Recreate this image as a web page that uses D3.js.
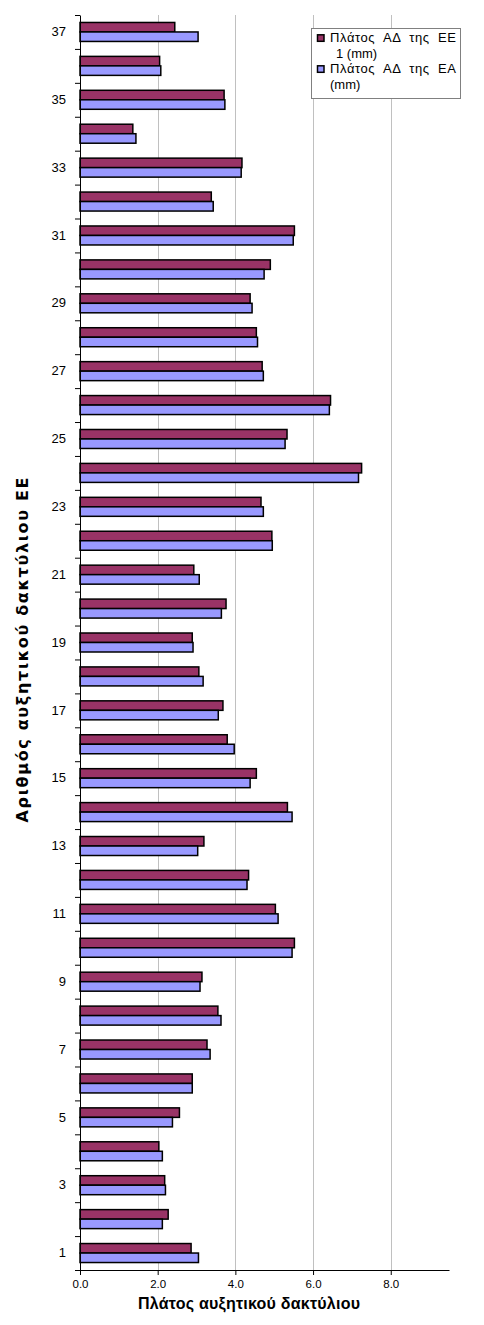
<!DOCTYPE html>
<html><head><meta charset="utf-8">
<script src="https://cdn.jsdelivr.net/npm/d3@7"></script>
<style>body{margin:0;background:#fff}svg{display:block}</style>
</head><body>
<svg id="c" width="484" height="1325"></svg>
<script>
const categories = [1,2,3,4,5,6,7,8,9,10,11,12,13,14,15,16,17,18,19,20,21,22,23,24,25,26,27,28,29,30,31,32,33,34,35,36,37];
const seriesEE = [2.86,2.27,2.18,2.03,2.56,2.89,3.27,3.55,3.14,5.52,5.03,4.34,3.19,5.34,4.54,3.79,3.68,3.06,2.89,3.76,2.93,4.94,4.66,7.25,5.33,6.45,4.69,4.54,4.38,4.90,5.52,3.38,4.17,1.36,3.71,2.05,2.44];
const seriesEA = [3.05,2.12,2.20,2.12,2.38,2.89,3.35,3.63,3.09,5.46,5.10,4.30,3.03,5.46,4.38,3.97,3.56,3.17,2.91,3.64,3.07,4.95,4.72,7.17,5.28,6.42,4.72,4.57,4.43,4.74,5.49,3.43,4.15,1.44,3.73,2.08,3.04];
const xTicks = [0,2,4,6,8];
const yTickLabels = [1,3,5,7,9,11,13,15,17,19,21,23,25,27,29,31,33,35,37];
const seriesNames = ["EE","EA"];
const legendLines = [["Πλάτος  ΑΔ  της  ΕΕ","1 (mm)"],["Πλάτος  ΑΔ  της  ΕΑ","(mm)"]];
const colors = {EE:"#993366", EA:"#9999FF"};
const xTitle = "Πλάτος αυξητικού δακτύλιου";
const yTitle = "Αριθμός αυξητικού δακτύλιου ΕΕ";

const svg = d3.select("#c");
const L=80, R=449, T=15, B=1270;
const font = "'Liberation Sans', Arial, sans-serif";
const titleFont = "'DejaVu Sans', Verdana, sans-serif";

const x = d3.scaleLinear().domain([0,9.5]).range([L,R]);
const y = d3.scaleBand().domain(categories.slice().reverse()).range([T,B]).paddingInner(0.44).paddingOuter(0.22);
const ys = d3.scaleBand().domain(seriesNames).range([0,y.bandwidth()]);
const yl = d3.scaleLinear().domain([0,categories.length]).range([B,T]);

// gridlines
svg.append("g").selectAll("line").data(xTicks.filter(d=>d>0)).join("line")
  .attr("x1",d=>Math.round(x(d))+0.5).attr("x2",d=>Math.round(x(d))+0.5)
  .attr("y1",T).attr("y2",B).attr("stroke","#c0c0c0").attr("stroke-width",1);

// bars
const data = categories.map((c,i)=>({c, EE:seriesEE[i], EA:seriesEA[i]}));
const g = svg.append("g");
seriesNames.forEach(s=>{
  g.selectAll("rect."+s).data(data).join("rect").attr("class",s)
    .attr("x",x(0)).attr("y",d=>y(d.c)+ys(s))
    .attr("width",d=>x(d[s])-x(0)).attr("height",ys.bandwidth())
    .attr("fill",colors[s]).attr("stroke","#000").attr("stroke-width",1.5);
});

// x axis
const xa = svg.append("g").attr("transform",`translate(0,${B})`)
  .call(d3.axisBottom(x).tickValues(xTicks).tickFormat(d3.format(".1f")).tickSize(5).tickSizeOuter(0));
xa.select(".domain").attr("stroke","#000");
xa.selectAll("text").attr("font-family",font).attr("font-size","11.5px").attr("fill","#000").attr("dy","0.9em");

// y axis boundary ticks
const ya = svg.append("g").attr("transform",`translate(${L},0)`)
  .call(d3.axisLeft(yl).tickValues(d3.range(0,categories.length+1)).tickFormat("").tickSize(5).tickSizeOuter(0));
ya.select(".domain").attr("stroke","#000");
// y labels
const yLab = svg.append("g").attr("transform",`translate(${L},0)`)
  .call(d3.axisLeft(y).tickValues(yTickLabels).tickSize(0).tickPadding(14));
yLab.select(".domain").remove();
yLab.selectAll("text").attr("font-family",font).attr("font-size","13px").attr("fill","#000");

// axis titles
svg.append("text").attr("x",249).attr("y",1309).attr("text-anchor","middle")
  .attr("font-family",font).attr("font-weight","bold").attr("font-size","16px")
  .attr("textLength",222).attr("lengthAdjust","spacing").text(xTitle);
svg.append("text").attr("transform",`translate(28,650) rotate(-90)`).attr("text-anchor","middle")
  .attr("font-family",titleFont).attr("font-weight","bold").attr("font-size","16px")
  .attr("textLength",345).attr("lengthAdjust","spacing").text(yTitle);

// legend
const lg = svg.append("g");
lg.append("rect").attr("x",311.5).attr("y",28.5).attr("width",149).attr("height",70)
  .attr("fill","#fff").attr("stroke","#808080").attr("stroke-width",1);
const rowY = [[42.3,58.3],[73.3,88.8]];
const rowX = [[330,336],[330,330]];
seriesNames.forEach((s,i)=>{
  lg.append("rect").attr("x",317.5).attr("y",rowY[i][0]-7.5).attr("width",6.5).attr("height",6.5)
    .attr("fill",colors[s]).attr("stroke","#000").attr("stroke-width",1.5);
  legendLines[i].forEach((t,j)=>{
    const tx = lg.append("text").attr("x",rowX[i][j]).attr("y",rowY[i][j])
      .style("white-space","pre")
      .attr("font-family",font).attr("font-size","13px").attr("fill","#000").text(t);
    if (j===0) tx.attr("textLength",126).attr("lengthAdjust","spacing");
  });
});
</script>
</body></html>
